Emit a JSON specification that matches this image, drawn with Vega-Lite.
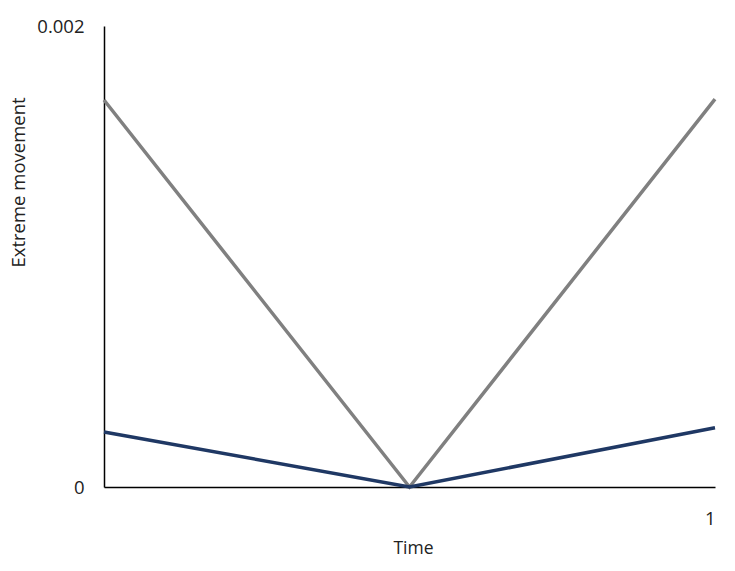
{
  "$schema": "https://vega.github.io/schema/vega-lite/v6.json",
  "width": 611,
  "height": 461,
  "autosize": {"type": "none"},
  "padding": {"left": 104, "top": 26, "right": 20, "bottom": 84},
  "background": "white",
  "config": {"view": {"stroke": null}, "font": "Open Sans"},
  "data": {
    "values": [
      {"t": 0, "v": 0.001679, "s": "A"},
      {"t": 0.5, "v": 0.0, "s": "A"},
      {"t": 1, "v": 0.001683, "s": "A"},
      {"t": 0, "v": 0.000239, "s": "B"},
      {"t": 0.5, "v": 0.0, "s": "B"},
      {"t": 1, "v": 0.000257, "s": "B"}
    ]
  },
  "mark": {"type": "line", "strokeWidth": 3.5},
  "encoding": {
    "x": {
      "field": "t", "type": "quantitative",
      "scale": {"domain": [0, 1], "nice": false, "zero": false},
      "axis": {
        "title": "Time", "values": [1], "grid": false, "ticks": false,
        "domainColor": "#000000", "domainWidth": 1.5,
        "labelPadding": 22, "labelFontSize": 18.5, "labelColor": "#222222",
        "labelFont": "Open Sans",
        "titleFont": "Open Sans", "titleFontSize": 17.5, "titleFontWeight": "normal", "titleColor": "#222222",
        "titleX": 309, "titleY": 61, "titleBaseline": "middle", "titleAlign": "center"
      }
    },
    "y": {
      "field": "v", "type": "quantitative",
      "scale": {"domain": [0, 0.002], "nice": false},
      "axis": {
        "title": "Extreme movement", "values": [0, 0.002], "grid": false, "ticks": false,
        "labelExpr": "datum.value == 0 ? '0' : '0.002'",
        "domainColor": "#000000", "domainWidth": 1.5,
        "labelPadding": 20, "labelFontSize": 18.5, "labelColor": "#222222", "labelBaseline": "middle",
        "labelFont": "Open Sans",
        "titleFont": "Open Sans", "titleFontSize": 18.5, "titleFontWeight": "normal", "titleColor": "#222222",
        "titleAngle": -90, "titleX": -86, "titleY": 156, "titleBaseline": "middle", "titleAlign": "center"
      }
    },
    "color": {
      "field": "s", "type": "nominal",
      "scale": {"domain": ["A", "B"], "range": ["#808080", "#1f3864"]},
      "legend": null
    },
    "strokeWidth": {
      "field": "s", "type": "nominal",
      "scale": {"domain": ["A", "B"], "range": [4, 3.5]},
      "legend": null
    }
  }
}
